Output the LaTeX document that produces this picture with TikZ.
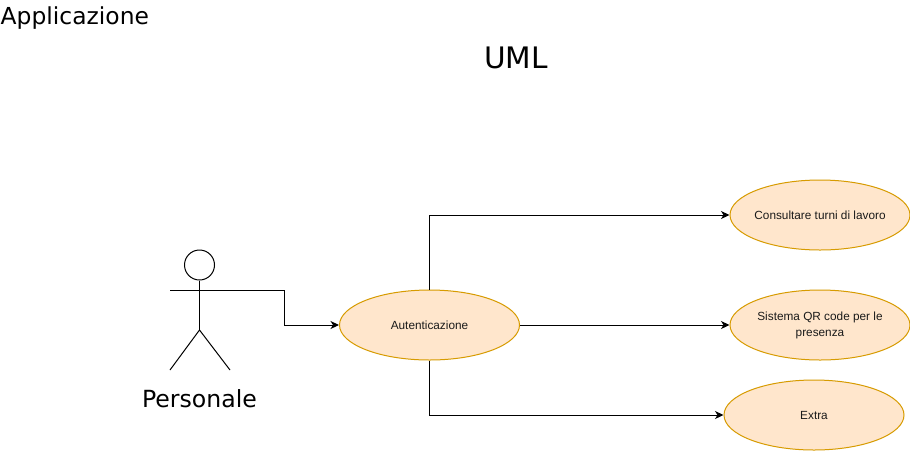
\documentclass[tikz,border=0pt]{standalone}
\usepackage{fontspec}
\setmainfont{Liberation Sans}
\newfontfamily\labelfont{DejaVu Sans}
\usetikzlibrary{shapes.geometric,arrows.meta}
\tikzset{
  usecase/.style={ellipse,draw=orangeline,fill=orangefill,line width=1pt,minimum width=180pt,minimum height=70pt,inner xsep=-8pt,inner ysep=0pt,align=center,font=\fontsize{11.8}{16}\selectfont,text=textdark},
  conn/.style={draw=black,line width=1pt,-{Stealth[length=8.5pt,width=8pt,inset=2.5pt]}},
  stick/.style={draw=black,line width=1pt,line cap=butt},
  biglabel/.style={inner sep=0pt,text=black,font=\labelfont}
}
\definecolor{orangeline}{HTML}{D79B00}
\definecolor{orangefill}{HTML}{FFE6CC}
\definecolor{textdark}{HTML}{1A1A1A}
\begin{document}
\begin{tikzpicture}[x=1pt,y=-1pt]
\useasboundingbox[fill=white] (0,0) rectangle (910,451);
\node[biglabel,anchor=base west,font=\labelfont\fontsize{23.4}{28}\selectfont] (app) at (0.5,24) {Applicazione};
\node[biglabel,anchor=base,font=\labelfont\fontsize{29.6}{35}\selectfont] (uml) at (516,68) {UML};
\node[biglabel,anchor=base,font=\labelfont\fontsize{23.6}{28}\selectfont] (pers) at (199.5,407) {Personale};
\node[usecase] (auth) at (429.5,325) {Autenticazione};
\node[usecase] (turni) at (820,215) {Consultare turni di lavoro};
\node[usecase] (qr) at (820,325) {Sistema QR code per le\\presenza};
\node[usecase] (extra) at (814,415) {Extra};
\node[circle,draw=black,line width=1pt,fill=white,minimum size=30pt,inner sep=0pt] (head) at (199.5,265) {};
\coordinate (hip) at (199.5,330);
\coordinate (armL) at (170,290);
\coordinate (armR) at (230,290);
\coordinate (footL) at (170,370);
\coordinate (footR) at (230,370);
\draw[stick] (head.south) -- (hip);
\draw[stick] (armL) -- (armR);
\draw[stick] (footL) -- (hip) -- (footR);
\draw[conn] (armR) -- (284.5,290) -- (284.5,325) -- (auth.west);
\draw[conn] (auth.north) |- (turni.west);
\draw[conn] (auth.east) -- (qr.west);
\draw[conn] (auth.south) |- (extra.west);
\end{tikzpicture}
\end{document}
